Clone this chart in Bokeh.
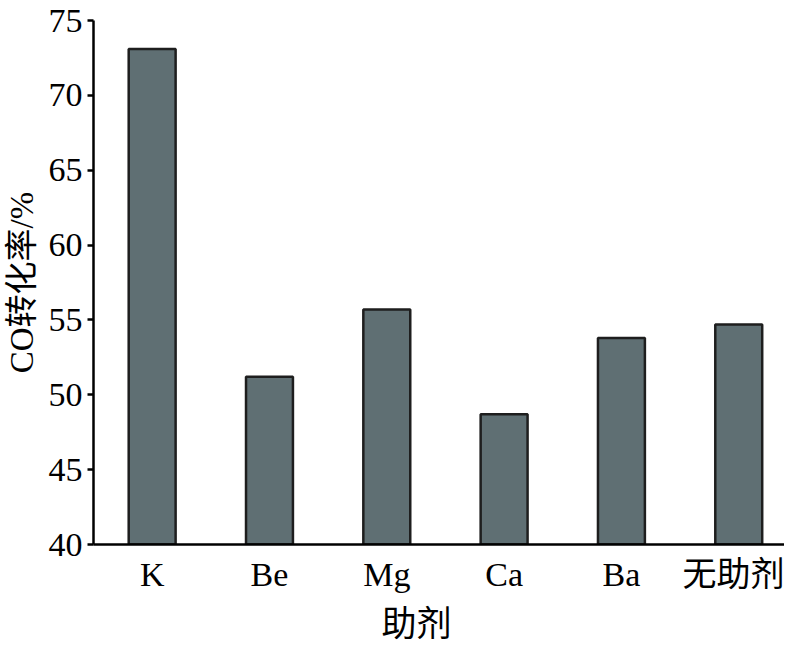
from bokeh.plotting import figure
from bokeh.models import ColumnDataSource, FixedTicker, Title, Range1d
from bokeh.embed import file_html
from bokeh.resources import INLINE

categories = ["K", "Be", "Mg", "Ca", "Ba", "无助剂"]
conversion = [73.1, 51.2, 55.7, 48.7, 53.8, 54.7]
y_ticks = [40, 45, 50, 55, 60, 65, 70, 75]

xpos = list(range(len(categories)))
src = ColumnDataSource(data=dict(x=xpos, top=conversion, cat=categories))

FONT = "'Liberation Serif', 'Noto Sans CJK SC'"

p = figure(width=784, height=650, output_backend="svg", toolbar_location=None,
           x_range=Range1d(-0.5, 5.39), y_range=Range1d(40, 75),
           min_border_left=89, min_border_top=20, min_border_bottom=88,
           min_border_right=0)
p.outline_line_color = None
p.xgrid.grid_line_color = None
p.ygrid.grid_line_color = None
p.background_fill_color = "white"
p.border_fill_color = "white"

p.vbar(x="x", top="top", bottom=40, width=0.4, source=src,
       fill_color="#5f6f73", line_color="#1e1e1e", line_width=2.5)

# y axis
ya = p.yaxis[0]
ya.ticker = FixedTicker(ticks=y_ticks)
ya.minor_tick_line_color = None
ya.major_tick_in = 0
ya.major_tick_out = 6
ya.major_tick_line_width = 2.5
ya.axis_line_width = 2.5
ya.axis_line_color = "black"
ya.major_tick_line_color = "black"
ya.major_label_text_font = FONT
ya.major_label_text_font_size = "34px"
ya.major_label_text_color = "black"
ya.major_label_standoff = 5
ya.axis_label = "CO转化率/%"
ya.axis_label_text_font = FONT
ya.axis_label_text_font_size = "33px"
ya.axis_label_text_font_style = "normal"
ya.axis_label_text_color = "black"
ya.axis_label_standoff = 6

# x axis
xa = p.xaxis[0]
xa.ticker = FixedTicker(ticks=xpos)
xa.major_label_overrides = {i: c for i, c in zip(xpos, categories)}
xa.minor_tick_line_color = None
xa.major_tick_line_color = None
xa.major_tick_in = 0
xa.major_tick_out = 0
xa.axis_line_width = 2.5
xa.axis_line_color = "black"
xa.major_label_text_font = FONT
xa.major_label_text_font_size = "34px"
xa.major_label_text_color = "black"
xa.major_label_standoff = 11

t = Title(text="助剂", align="left", offset=288,
          text_font=FONT, text_font_size="35px", text_font_style="normal",
          text_color="black", standoff=14)
p.add_layout(t, "below")

open("out.html", "w").write(file_html(p, INLINE))
